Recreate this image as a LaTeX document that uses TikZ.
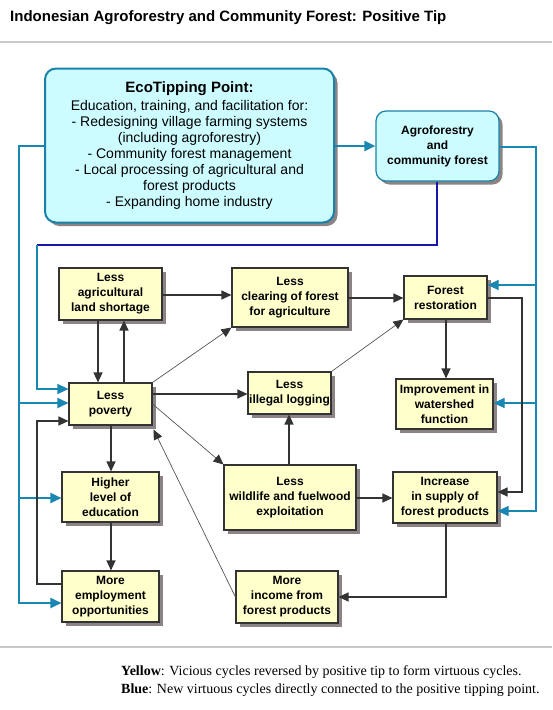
\documentclass[tikz,border=0pt]{standalone}
\usepackage{fontspec}
\setmainfont{Liberation Serif}
\setsansfont{Liberation Sans}
\usetikzlibrary{arrows.meta,shadows,calc}
\definecolor{boxfill}{HTML}{FFFFCC}
\definecolor{boxline}{HTML}{333333}
\definecolor{ecofill}{HTML}{CCFCFF}
\definecolor{ecoline}{HTML}{1A82A8}
\definecolor{tealc}{HTML}{1A86B2}
\definecolor{navyc}{HTML}{1818A8}
\definecolor{shade}{HTML}{8C8484}
\definecolor{rulec}{HTML}{C8C8C8}
\definecolor{arrc}{HTML}{333333}
\definecolor{diagc}{HTML}{555555}
\begin{document}
\begin{tikzpicture}[x=1pt,y=-1pt,
  sh/.style={drop shadow={shadow xshift=3.5pt,shadow yshift=-3.5pt,fill=shade,opacity=1}},
  ybox/.style={sh,draw=boxline,line width=1.1pt,fill=boxfill,inner sep=0pt,align=center,
    font=\sffamily\bfseries\fontsize{12}{15}\selectfont},
  cbox/.style={sh,draw=ecoline,fill=ecofill,inner sep=0pt,align=center,rounded corners=11pt},
  arr/.style={draw=arrc,line width=1.2pt,-{Triangle[length=10pt,width=9pt]}},
  darr/.style={draw=diagc,line width=0.7pt,-{Triangle[length=10pt,width=9pt,color=arrc]}},
  bline/.style={draw=tealc,line width=2pt},
  barr/.style={draw=tealc,line width=2pt,-{Triangle[length=11pt,width=10pt]}},
  tline/.style={draw=tealc,line width=1.1pt},
  tarr/.style={draw=tealc,line width=1.1pt,-{Triangle[length=11pt,width=10pt]}},
]
\useasboundingbox (0,0) rectangle (552,710);
\fill[white] (0,0) rectangle (552,710);

% title and rules
\node[anchor=base west,inner sep=0pt,font=\sffamily\bfseries\fontsize{15}{18}\selectfont] (title) at (10,21)
  {Indonesian Agroforestry and Community Forest: Positive Tip};
\draw[rulec,line width=1.5pt] (0,42) -- (552,42);
\draw[rulec,line width=1.5pt] (0,647) -- (552,647);

% blue boxes
\node[cbox,line width=2pt,minimum width=289pt,minimum height=154pt,
  font=\sffamily\fontsize{14}{16}\selectfont] (eco) at (189.5,145.5)
  {{\bfseries\fontsize{15}{18}\selectfont EcoTipping Point:}\\[2pt]
   Education, training, and facilitation for:\\
   - Redesigning village farming systems\\
   (including agroforestry)\\
   - Community forest management\\
   - Local processing of agricultural and\\
   forest products\\
   - Expanding home industry};
\node[cbox,line width=1.2pt,rounded corners=10pt,minimum width=123pt,minimum height=70pt,
  font=\sffamily\bfseries\fontsize{12}{15}\selectfont] (agro) at (437.5,146)
  {Agroforestry\\and\\community forest};

% yellow boxes
\node[ybox,minimum width=103pt,minimum height=52pt] (land) at (110.5,294) {Less\\agricultural\\land shortage};
\node[ybox,minimum width=116pt,minimum height=59pt] (clearing) at (290,297.5) {Less\\clearing of forest\\for agriculture};
\node[ybox,minimum width=83pt,minimum height=43pt] (restoration) at (445.5,297.5) {Forest\\restoration};
\node[ybox,minimum width=83pt,minimum height=42pt] (poverty) at (110.5,404) {Less\\poverty};
\node[ybox,minimum width=83pt,minimum height=42pt] (logging) at (289.5,393) {Less\\illegal logging};
\node[ybox,minimum width=97pt,minimum height=50pt] (improvement) at (444.5,404) {Improvement in\\watershed\\function};
\node[ybox,minimum width=97pt,minimum height=50pt] (education) at (110.5,497) {Higher\\level of\\education};
\node[ybox,minimum width=132pt,minimum height=65pt] (wildlife) at (290,497.5) {Less\\wildlife and fuelwood\\exploitation};
\node[ybox,minimum width=104pt,minimum height=51pt] (increase) at (445,497.5) {Increase\\in supply of\\forest products};
\node[ybox,minimum width=97pt,minimum height=51pt] (employment) at (110.5,596.5) {More\\employment\\opportunities};
\node[ybox,minimum width=102pt,minimum height=52pt] (income) at (287,597) {More\\income from\\forest products};

% blue connectors
\draw[barr] (eco.east |- 0,146) -- (agro.west |- 0,146);
\coordinate (lb1) at (19,403);
\coordinate (lb2) at (19,498);
\draw[barr] (eco.west) -| (19,603) -- (employment.west |- 0,603);
\draw[barr] (lb1) -- (poverty.west |- lb1);
\draw[barr] (lb2) -- (education.west |- lb2);
\coordinate (rb1) at (536,285);
\coordinate (rb2) at (536,403);
\draw[tarr] (agro.east |- 0,147) -| (536,511) -- (increase.east |- 0,511);
\draw[tarr] (rb1) -- (restoration.east |- rb1);
\draw[tarr] (rb2) -- (improvement.east |- rb2);
\coordinate (nv) at (37,245);
\draw[navyc,line width=1.2pt] (agro.south -| 437,0) |- (nv);
\draw[tarr] (nv) |- (poverty.west |- 0,389);

% black connectors
\draw[arr] (land.east |- 0,295) -- (clearing.west |- 0,295);
\draw[arr] (clearing.east |- 0,298) -- (restoration.west |- 0,298);
\draw[arr] (land.south -| 98,0) -- (poverty.north -| 98,0);
\draw[arr] (poverty.north -| 124,0) -- (land.south -| 124,0);
\draw[arr] (poverty.east |- 0,394) -- (logging.west |- 0,394);
\draw[arr] (restoration.south -| 446,0) -- (improvement.north -| 446,0);
\draw[arr] (restoration.east |- 0,298) -| (522,492) -- (increase.east |- 0,492);
\draw[arr] (wildlife.north -| 289,0) -- (logging.south -| 289,0);
\draw[arr] (wildlife.east |- 0,498) -- (increase.west |- 0,498);
\draw[arr] (increase.south -| 446,0) |- (income.east |- 0,597);
\draw[arr] (poverty.south -| 111,0) -- (education.north -| 111,0);
\draw[arr] (education.south -| 111,0) -- (employment.north -| 111,0);
\draw[arr] (employment.west |- 0,584) -| (37,421) -- (poverty.west |- 0,421);

% diagonal connectors
\draw[darr] (poverty.north east) -- (clearing.south west);
\draw[darr] (logging.north east) -- (restoration.south west);
\draw[darr] (poverty.east) -- (wildlife.north west);
\draw[darr] (income.west) -- ($(poverty.south east)+(1,4)$);

% legend
\node[anchor=base west,inner sep=0pt,font=\fontsize{14}{17}\selectfont] (leg1) at (121,675)
  {\textbf{Yellow}: Vicious cycles reversed by positive tip to form virtuous cycles.};
\node[anchor=base west,inner sep=0pt,font=\fontsize{14}{17}\selectfont] (leg2) at (121,693)
  {\textbf{Blue}: New virtuous cycles directly connected to the positive tipping point.};
\end{tikzpicture}
\end{document}
